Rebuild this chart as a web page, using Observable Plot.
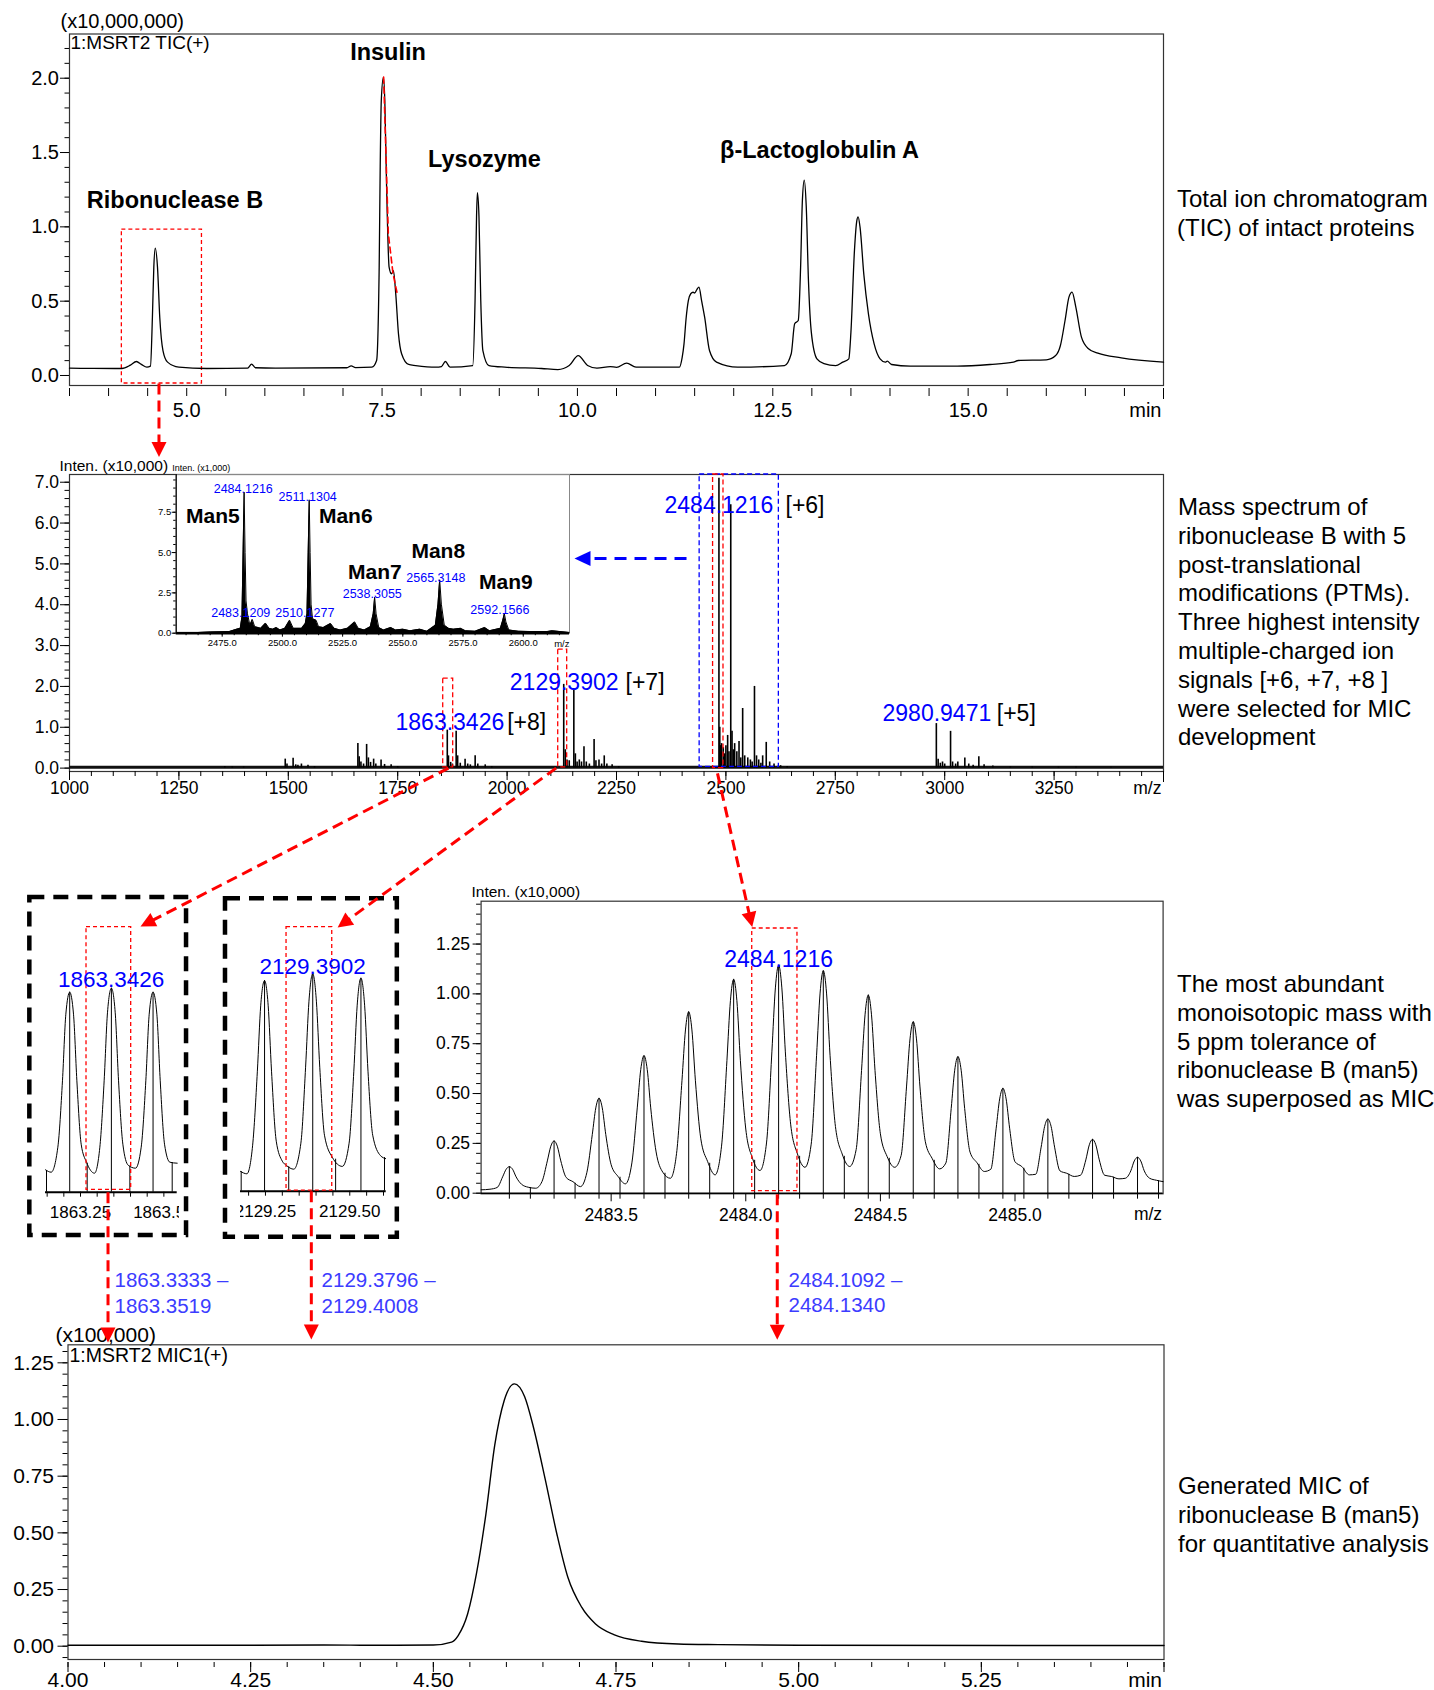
<!DOCTYPE html>
<html>
<head>
<meta charset="utf-8">
<script src="https://cdn.jsdelivr.net/npm/d3@7"></script>
<script src="https://cdn.jsdelivr.net/npm/@observablehq/plot@0.6"></script>
<style>
  html,body{margin:0;padding:0;background:#fff;}
  #fig{position:relative;width:1434px;height:1690px;overflow:hidden;background:#fff;
       font-family:"Liberation Sans",Arial,Helvetica,sans-serif;color:#000;}
  .note{position:absolute;font-size:24px;line-height:28.8px;white-space:nowrap;color:#000;}
</style>
</head>
<body>
<div id="fig"></div>
<script>
// ===================== DATA =====================
// Panel 1 – TIC (time min, intensity x10,000,000)
const ticPoints = [[3.50,0.049],[3.80,0.048],[4.17,0.047],[4.28,0.07],[4.356,0.094],[4.42,0.075],[4.49,0.056],[4.536,0.063],[4.561,0.392],[4.579,0.729],[4.597,0.857],[4.626,0.729],[4.655,0.392],[4.696,0.168],[4.755,0.09],[4.90,0.056],[5.254,0.047],[5.78,0.05],[5.83,0.076],[5.88,0.052],[6.136,0.049],[7.05,0.052],[7.105,0.065],[7.16,0.053],[7.37,0.056],[7.43,0.101],[7.463,0.729],[7.476,1.40],[7.49,1.85],[7.517,2.006],[7.535,1.85],[7.557,1.29],[7.59,0.729],[7.62,0.684],[7.645,0.706],[7.675,0.549],[7.71,0.28],[7.75,0.146],[7.84,0.074],[7.93,0.067],[8.19,0.056],[8.26,0.06],[8.31,0.094],[8.37,0.056],[8.66,0.067],[8.69,0.505],[8.709,1.07],[8.72,1.23],[8.74,1.07],[8.763,0.505],[8.79,0.168],[8.868,0.067],[9.07,0.056],[9.54,0.047],[9.75,0.040],[9.895,0.067],[10.01,0.134],[10.13,0.067],[10.25,0.049],[10.42,0.06],[10.5,0.055],[10.63,0.083],[10.75,0.056],[11.305,0.056],[11.34,0.12],[11.364,0.213],[11.39,0.38],[11.42,0.505],[11.45,0.55],[11.48,0.56],[11.50,0.555],[11.53,0.58],[11.555,0.594],[11.59,0.5],[11.628,0.392],[11.69,0.168],[11.78,0.09],[12.05,0.056],[12.65,0.067],[12.736,0.146],[12.78,0.348],[12.826,0.37],[12.856,0.729],[12.879,1.18],[12.903,1.315],[12.928,1.14],[12.957,0.63],[12.993,0.292],[13.065,0.112],[13.155,0.08],[13.305,0.067],[13.395,0.09],[13.473,0.112],[13.5,0.292],[13.545,0.84],[13.575,1.04],[13.592,1.067],[13.617,0.996],[13.665,0.68],[13.724,0.415],[13.797,0.213],[13.873,0.112],[13.94,0.09],[13.965,0.096],[14.02,0.074],[14.26,0.063],[14.86,0.063],[15.28,0.074],[15.58,0.09],[15.64,0.101],[16.0,0.105],[16.12,0.134],[16.18,0.2],[16.24,0.37],[16.29,0.527],[16.33,0.561],[16.378,0.46],[16.45,0.258],[16.54,0.18],[16.66,0.15],[16.96,0.119],[17.5,0.09]];
const ticPeakLabels = [
  {t: 4.85, v: 1.177, label: "Ribonuclease B"},
  {t: 7.576, v: 2.175, label: "Insulin"},
  {t: 8.81, v: 1.451, label: "Lysozyme"},
  {t: 13.098, v: 1.514, label: "β-Lactoglobulin A"}
];
const ticYTicks = [0, 0.5, 1.0, 1.5, 2.0];
const ticXTicks = [5, 7.5, 10, 12.5, 15];
const ticSelection = [{x1: 4.17, x2: 5.195, y1: -0.054, y2: 0.982}];
const insulinMarker = [[7.52, 2.007], [7.58, 0.955], [7.64, 0.686], [7.69, 0.56]];

// Panel 2 – mass spectrum (m/z, intensity x10,000)
const msPeaks = [[1355,0.04],[1372,0.03],[1398,0.03],[1493,0.22],[1497,0.1],[1511,0.24],[1517,0.08],[1522,0.07],[1530,0.1],[1545,0.07],[1560,0.04],[1659,0.6],[1662,0.28],[1666,0.15],[1672,0.1],[1679,0.58],[1683,0.25],[1688,0.14],[1695,0.22],[1700,0.1],[1712,0.2],[1720,0.09],[1735,0.08],[1750,0.04],[1863.3,0.93],[1866,0.3],[1871,0.14],[1875,0.1],[1883.6,0.9],[1887,0.3],[1893,0.12],[1904,0.22],[1910,0.1],[1916,0.08],[1927,0.3],[1933,0.1],[1950,0.08],[1965,0.04],[2129.4,2.05],[2133,0.45],[2137,0.2],[2142,0.18],[2152.5,1.95],[2156,0.35],[2160,0.15],[2165,0.2],[2170,0.15],[2175.7,0.52],[2181,0.15],[2188,0.1],[2198.8,0.7],[2203,0.18],[2210,0.2],[2216,0.1],[2222,0.3],[2228,0.1],[2240,0.08],[2255,0.04],[2484.1,7.1],[2486,1.0],[2488,0.55],[2490,0.6],[2494,0.5],[2497,0.35],[2500,0.55],[2504,0.8],[2507,0.4],[2511.1,6.45],[2514,0.9],[2517,0.45],[2520,0.6],[2525,0.4],[2530,0.65],[2534,0.25],[2538.3,1.46],[2543,0.3],[2550,0.25],[2556,0.2],[2560,0.15],[2565.3,2.0],[2570,0.3],[2575,0.2],[2580,0.12],[2584,0.3],[2592.2,0.63],[2600,0.15],[2610,0.1],[2625,0.06],[2640,0.04],[2980.9,1.09],[2985,0.22],[2990,0.12],[2995,0.15],[3000,0.1],[3013.4,0.9],[3018,0.15],[3025,0.1],[3030,0.15],[3046,0.25],[3055,0.1],[3065,0.07],[3078,0.28],[3090,0.08],[3110,0.05],[3150,0.03],[3200,0.03],[3260,0.025],[3300,0.025],[3380,0.02]];
const msYTicks = [0, 1, 2, 3, 4, 5, 6, 7];
const msXTicks = [1000, 1250, 1500, 1750, 2000, 2250, 2500, 2750, 3000, 3250];
const msLabels = [
  {mz: 2359.7, v: 6.43, num: "2484.1216", zmz: 2636.2, z: "[+6]"},
  {mz: 2006.2, v: 2.10, num: "2129.3902", zmz: 2270.6, z: "[+7]"},
  {mz: 1745.0, v: 1.124, num: "1863.3426", zmz: 2000.2, z: "[+8]"},
  {mz: 2857.9, v: 1.33, num: "2980.9471", zmz: 3119.0, z: "[+5]"}
];
const msRedBoxes = [
  {x1: 1854, x2: 1876.8, y1: 0.02, y2: 2.19},
  {x1: 2116.8, x2: 2137.3, y1: 0.02, y2: 2.9},
  {x1: 2470.7, x2: 2494.5, y1: 0.0, y2: 7.189}
];
const msBlueBox = [{x1: 2440, x2: 2621, y1: 0.03, y2: 7.189}];

// Inset – zoomed spectrum (m/z, intensity x1,000)
const insetProfile = [[2456,0.05],[2465,0.05],[2470,0.08],[2478,0.1],[2481,0.25],[2482.5,0.3],[2483.2,1.0],[2483.7,5.2],[2484.1,8.74],[2484.5,5.0],[2484.9,2.0],[2485.5,1.2],[2486.5,0.5],[2487.5,0.85],[2488.5,0.4],[2490,0.35],[2491,0.3],[2493,0.62],[2494.5,0.3],[2496,0.25],[2497.5,0.35],[2499,0.2],[2501,0.3],[2503,0.8],[2504.5,0.3],[2506,0.3],[2508,0.3],[2509.5,0.6],[2510.2,1.2],[2510.7,5],[2511.13,8.27],[2511.5,5],[2511.9,1.8],[2512.5,0.9],[2514,0.8],[2515,0.4],[2517,0.35],[2520,0.6],[2521.5,0.3],[2524,0.2],[2527,0.3],[2530,0.7],[2531.5,0.3],[2534,0.2],[2536.5,0.4],[2537.7,1.2],[2538.3,2.23],[2538.9,1.2],[2540,0.35],[2542,0.2],[2545,0.35],[2547,0.2],[2550,0.25],[2553,0.15],[2557,0.25],[2560,0.12],[2563.5,0.5],[2564.6,1.8],[2565.3,3.31],[2566,1.8],[2567.2,0.5],[2569,0.3],[2571,0.25],[2574,0.3],[2576,0.15],[2580,0.12],[2584,0.35],[2586,0.15],[2590.5,0.3],[2591.5,0.8],[2592.16,1.2],[2592.8,0.7],[2594,0.2],[2598,0.12],[2603,0.1],[2610,0.1],[2612,0.15],[2619,0.05]];
const insetValueLabels = [
  {mz: 2483.74, v: 8.91, text: "2484.1216"},
  {mz: 2510.5, v: 8.47, text: "2511.1304"},
  {mz: 2537.3, v: 2.40, text: "2538.3055"},
  {mz: 2563.7, v: 3.45, text: "2565.3148"},
  {mz: 2590.3, v: 1.41, text: "2592.1566"},
  {mz: 2482.7, v: 1.28, text: "2483.1209"},
  {mz: 2509.3, v: 1.28, text: "2510.1277"}
];
const insetGlycanLabels = [
  {mz: 2471.1, v: 7.23, text: "Man5"},
  {mz: 2526.3, v: 7.23, text: "Man6"},
  {mz: 2538.4, v: 3.75, text: "Man7"},
  {mz: 2564.7, v: 5.10, text: "Man8"},
  {mz: 2592.8, v: 3.14, text: "Man9"}
];
const insetXTicks = [2475, 2500, 2525, 2550, 2575, 2600];
const insetYTicks = [0, 2.5, 5, 7.5];

// Panel 3a – [+8] isotopes (relative profile)
const prof1863 = [[1863.145,0.112],[1863.162,0.10],[1863.182,0.225],[1863.196,0.56],[1863.206,0.89],[1863.2176,1.0],[1863.229,0.89],[1863.239,0.56],[1863.252,0.24],[1863.268,0.15],[1863.292,0.095],[1863.308,0.225],[1863.321,0.56],[1863.331,0.9],[1863.3426,1.02],[1863.354,0.9],[1863.364,0.56],[1863.377,0.24],[1863.393,0.135],[1863.415,0.12],[1863.432,0.225],[1863.446,0.56],[1863.456,0.89],[1863.4676,1.0],[1863.479,0.89],[1863.489,0.56],[1863.502,0.24],[1863.518,0.15],[1863.54,0.145]];
const sticks1863 = [[1863.148,0.108],[1863.2176,1.0],[1863.27,0.145],[1863.3426,1.02],[1863.398,0.13],[1863.4676,1.0],[1863.525,0.148]];
const ticks1863 = [1863.25, 1863.50];
const box1863 = [{x1: 1863.268, x2: 1863.402, y1: 0.012, y2: 1.325}];

// Panel 3b – [+7] isotopes
const prof2129 = [[2129.176,0.099],[2129.195,0.087],[2129.212,0.23],[2129.226,0.6],[2129.236,0.93],[2129.2473,1.053],[2129.258,0.93],[2129.268,0.6],[2129.282,0.25],[2129.300,0.15],[2129.312,0.129],[2129.334,0.11],[2129.355,0.24],[2129.369,0.62],[2129.379,0.95],[2129.3902,1.087],[2129.401,0.95],[2129.411,0.62],[2129.425,0.28],[2129.448,0.17],[2129.478,0.124],[2129.498,0.24],[2129.512,0.6],[2129.522,0.93],[2129.5331,1.065],[2129.544,0.93],[2129.554,0.6],[2129.568,0.28],[2129.591,0.178],[2129.608,0.162]];
const sticks2129 = [[2129.178,0.098],[2129.2473,1.053],[2129.319,0.122],[2129.3902,1.087],[2129.458,0.16],[2129.5331,1.065],[2129.603,0.168]];
const ticks2129 = [2129.25, 2129.50];
const box2129 = [{x1: 2129.3125, x2: 2129.448, y1: 0.003, y2: 1.32}];

// Panel 3c – [+6] isotopes (x10,000)
const prof2484 = [[2483.017,0.017],[2483.05,0.02],
[2483.077,0.029],[2483.097,0.082],[2483.110,0.12],[2483.122,0.133],[2483.134,0.12],[2483.147,0.082],[2483.167,0.045],[2483.192,0.03],[2483.220,0.025],
[2483.243,0.058],[2483.263,0.162],[2483.276,0.236],[2483.288,0.262],[2483.300,0.236],[2483.313,0.162],[2483.333,0.079],[2483.358,0.058],[2483.386,0.033],
[2483.410,0.105],[2483.430,0.295],[2483.443,0.428],[2483.455,0.476],[2483.467,0.428],[2483.480,0.295],[2483.500,0.143],[2483.525,0.085],[2483.553,0.047],
[2483.577,0.152],[2483.597,0.428],[2483.610,0.621],[2483.622,0.69],[2483.634,0.621],[2483.647,0.428],[2483.667,0.207],[2483.692,0.105],[2483.720,0.075],
[2483.743,0.2],[2483.763,0.564],[2483.776,0.819],[2483.788,0.91],[2483.800,0.819],[2483.813,0.564],[2483.833,0.273],[2483.858,0.16],[2483.886,0.092],
[2483.910,0.236],[2483.930,0.665],[2483.943,0.966],[2483.955,1.073],[2483.967,0.966],[2483.980,0.665],[2484.000,0.322],[2484.025,0.175],[2484.053,0.114],
[2484.077,0.252],[2484.097,0.709],[2484.110,1.03],[2484.122,1.144],[2484.134,1.03],[2484.147,0.709],[2484.167,0.343],[2484.192,0.197],[2484.220,0.13],
[2484.243,0.246],[2484.263,0.692],[2484.276,1.004],[2484.288,1.116],[2484.300,1.004],[2484.313,0.692],[2484.333,0.335],[2484.358,0.197],[2484.386,0.134],
[2484.410,0.219],[2484.430,0.616],[2484.443,0.895],[2484.455,0.994],[2484.467,0.895],[2484.480,0.616],[2484.500,0.298],[2484.525,0.184],[2484.553,0.13],
[2484.577,0.189],[2484.597,0.533],[2484.610,0.774],[2484.622,0.86],[2484.634,0.774],[2484.647,0.533],[2484.667,0.258],[2484.692,0.175],[2484.720,0.122],
[2484.743,0.151],[2484.763,0.425],[2484.776,0.617],[2484.788,0.685],[2484.800,0.617],[2484.813,0.425],[2484.833,0.206],[2484.858,0.154],[2484.886,0.109],
[2484.910,0.12],[2484.930,0.326],[2484.943,0.473],[2484.955,0.526],[2484.967,0.473],[2484.980,0.326],[2485.000,0.158],[2485.025,0.134],[2485.053,0.092],
[2485.077,0.095],[2485.097,0.231],[2485.110,0.335],[2485.122,0.372],[2485.134,0.335],[2485.147,0.231],[2485.167,0.112],[2485.192,0.1],[2485.220,0.084],
[2485.243,0.09],[2485.263,0.167],[2485.276,0.243],[2485.288,0.27],[2485.300,0.243],[2485.313,0.167],[2485.333,0.09],[2485.358,0.084],[2485.386,0.072],
[2485.410,0.075],[2485.430,0.112],[2485.443,0.162],[2485.455,0.18],[2485.467,0.162],[2485.480,0.112],[2485.500,0.075],[2485.525,0.065],[2485.55,0.058]];
const peaks2484 = [[2483.122,0.133],[2483.288,0.262],[2483.455,0.476],[2483.622,0.69],[2483.788,0.91],[2483.955,1.073],[2484.122,1.144],[2484.288,1.116],[2484.455,0.994],[2484.622,0.86],[2484.788,0.685],[2484.955,0.526],[2485.122,0.372],[2485.288,0.27],[2485.455,0.18]];
const shoulders2484 = [[2483.200,0.028],[2483.366,0.05],[2483.533,0.08],[2483.700,0.1],[2483.866,0.15],[2484.033,0.165],[2484.200,0.185],[2484.366,0.185],[2484.533,0.175],[2484.700,0.165],[2484.866,0.145],[2485.033,0.125],[2485.200,0.095],[2485.366,0.08],[2485.533,0.062]];
const isoXTicks = [2483.5, 2484.0, 2484.5, 2485.0];
const isoYTicks = [0, 0.25, 0.5, 0.75, 1.0, 1.25];
const box2484 = [{x1: 2484.024, x2: 2484.192, y1: 0.01, y2: 1.328}];

// Panel 4 – MIC (time min, intensity x100,000)
const micPoints = [[4.0,0.004],[4.2,0.004],[4.35,0.005],[4.45,0.004],[4.5,0.005],[4.525,0.018],[4.534,0.047],[4.547,0.143],[4.559,0.32],[4.572,0.584],[4.584,0.886],[4.597,1.084],[4.611,1.157],[4.625,1.10],[4.637,0.966],[4.653,0.738],[4.669,0.496],[4.684,0.305],[4.703,0.172],[4.722,0.098],[4.747,0.051],[4.785,0.022],[4.835,0.01],[4.89,0.007],[5.0,0.004],[5.5,0.003]];
const micXTicks = [4.0, 4.25, 4.5, 4.75, 5.0, 5.25];
const micYTicks = [0, 0.25, 0.5, 0.75, 1.0, 1.25];

// Connectors: [panel, x value, y value] in each panel's data space
const connectors = [
  {from: ["p1", 4.645, -0.054], to: ["p1", 4.645, -0.548], color: "red"},
  {from: ["p2", 1866, 0.0], to: ["p3a", 1863.43, 1.3285], color: "red"},
  {from: ["p2", 2112, 0.0], to: ["p3b", 2129.464, 1.3185], color: "red"},
  {from: ["p2", 2480.8, -0.13], to: ["p3c", 2484.024, 1.335], color: "red"},
  {from: ["p3a", 1863.3325, 0.0], to: ["p3a", 1863.3325, -0.7515], color: "red"},
  {from: ["p3b", 2129.386, 0.0], to: ["p3b", 2129.386, -0.7415], color: "red"},
  {from: ["p3c", 2484.117, -0.005], to: ["p3c", 2484.117, -0.735], color: "red"},
  {from: ["p2", 2410, 5.13], to: ["p2", 2154, 5.13], color: "blue"}
];
const blackBoxes = [
  {panel: "p3a", x1: 1863.098, x2: 1863.568, y1: 1.4735, y2: -0.2165},
  {panel: "p3b", x1: 2129.1315, x2: 2129.641, y1: 1.462, y2: -0.23}
];
const rangeLabels = [
  {panel: "p3a", x: 1863.352, y: -0.499, text: "1863.3333 –\n1863.3519"},
  {panel: "p3b", x: 2129.4164, y: -0.504, text: "2129.3796 –\n2129.4008"},
  {panel: "p3c", x: 2484.1587, y: -0.492, text: "2484.1092 –\n2484.1340"}
];
const notes = [
  {left: 1177, top: 185, lines: ["Total ion chromatogram", "(TIC) of intact proteins"]},
  {left: 1178, top: 493, lines: ["Mass spectrum of", "ribonuclease B with 5", "post-translational", "modifications (PTMs).", "Three highest intensity", "multiple-charged ion", "signals [+6, +7, +8 ]", "were selected for MIC", "development"]},
  {left: 1177, top: 970, lines: ["The most abundant", "monoisotopic mass with", "5 ppm tolerance of", "ribonuclease B (man5)", "was superposed as MIC"]},
  {left: 1178, top: 1472, lines: ["Generated MIC of", "ribonuclease B (man5)", "for quantitative analysis"]}
];

// ===================== RENDER =====================
const FONT = '"Liberation Sans", Arial, Helvetica, sans-serif';
const fig = document.getElementById("fig");
const X = d => d[0], Y = d => d[1];
const txt = d => d;
const RED = "#ff0000", BLUE = "#0000ff", RANGEBLUE = "#3c3cff";
function st(fs, extra) { return Object.assign({fontFamily: FONT, fontSize: fs, color: "#000", background: "transparent", overflow: "visible"}, extra || {}); }
const panels = {};
function place(name, plot, left, top) {
  plot.style.position = "absolute";
  plot.style.left = left + "px";
  plot.style.top = top + "px";
  fig.appendChild(plot);
  panels[name] = {plot, left, top};
}
const none = () => "";
const range = (a, n, s) => d3.range(n).map(i => +(a + i * s).toFixed(4));
const mid = {lineAnchor: "middle"};

// ---- Panel 1 ----
place("p1", Plot.plot({
  width: 1175, height: 420, marginLeft: 69, marginRight: 12, marginTop: 33.5, marginBottom: 32,
  x: {domain: [3.5, 17.5]}, y: {domain: [-0.0875, 2.2974]},
  style: st("20px"),
  marks: [
    Plot.frame({stroke: "#333", strokeWidth: 1.2, insetBottom: 3}),
    Plot.axisY({ticks: range(0, 23, 0.1), tickSize: 4.5, tickFormat: none, label: null}),
    Plot.axisY({ticks: ticYTicks, tickSize: 9, tickPadding: 1.5, tickFormat: d => d.toFixed(1), label: null}),
    Plot.axisX({ticks: range(3.5, 29, 0.5), tickSize: 8, tickPadding: 6, tickFormat: d => ticXTicks.includes(d) ? d.toFixed(1) : "", label: null}),
    Plot.axisX({ticks: [17.5], tickSize: 11, tickFormat: none, label: null}),
    Plot.text(["min"], {...mid, text: txt, frameAnchor: "bottom-right", dx: -2, dy: 22, textAnchor: "end"}),
    Plot.text(["(x10,000,000)"], {...mid, text: txt, frameAnchor: "top-left", dx: -9, dy: -12, textAnchor: "start"}),
    Plot.text(["1:MSRT2 TIC(+)"], {...mid, text: txt, frameAnchor: "top-left", dx: 1, dy: 9, textAnchor: "start", fontSize: 19}),
    Plot.rect(ticSelection, {x1: "x1", x2: "x2", y1: "y1", y2: "y2", fill: "none", stroke: RED, strokeWidth: 1.3, strokeDasharray: "4,3"}),
    Plot.line(ticPoints, {x: X, y: Y, stroke: "#000", strokeWidth: 1.3, curve: "monotone-x"}),
    Plot.line(insulinMarker, {x: X, y: Y, stroke: RED, strokeWidth: 1.6, strokeDasharray: "6,4"}),
    Plot.text(ticPeakLabels, {x: "t", y: "v", text: "label", fontSize: 23.5, fontWeight: "bold"})
  ]
}), 0, 0);

// ---- Panel 2 ----
place("p2", Plot.plot({
  width: 1175, height: 360, marginLeft: 69, marginRight: 12, marginTop: 34, marginBottom: 29,
  x: {domain: [1000, 3500]}, y: {domain: [-0.083, 7.189]},
  style: st("17.5px"),
  marks: [
    Plot.frame({stroke: "#333", strokeWidth: 1.2}),
    Plot.axisY({ticks: range(0, 36, 0.2), tickSize: 4.5, tickFormat: none, label: null}),
    Plot.axisY({ticks: msYTicks, tickSize: 9, tickPadding: 1.5, tickFormat: d => d.toFixed(1), label: null}),
    Plot.axisX({ticks: range(1000, 51, 50), tickSize: 5, tickFormat: none, label: null}),
    Plot.axisX({ticks: msXTicks, tickSize: 9, tickPadding: 1, tickFormat: d => String(d), label: null}),
    Plot.axisX({ticks: [3500], tickSize: 11, tickFormat: none, label: null}),
    Plot.text(["m/z"], {...mid, text: txt, frameAnchor: "bottom-right", dx: -2, dy: 17, textAnchor: "end"}),
    Plot.text(["Inten. (x10,000)"], {...mid, text: txt, frameAnchor: "top-left", dx: -10, dy: -8, textAnchor: "start", fontSize: 15.5}),
    Plot.ruleY([0.02], {stroke: "#111", strokeWidth: 3}),
    Plot.ruleX(msPeaks, {x: X, y1: 0, y2: Y, stroke: "#000", strokeWidth: 1.6}),
    Plot.rect(msBlueBox, {x1: "x1", x2: "x2", y1: "y1", y2: "y2", fill: "none", stroke: BLUE, strokeWidth: 1.3, strokeDasharray: "5,3"}),
    Plot.rect(msRedBoxes, {x1: "x1", x2: "x2", y1: "y1", y2: "y2", fill: "none", stroke: RED, strokeWidth: 1.3, strokeDasharray: "5,3"}),
    Plot.text(msLabels, {x: "mz", y: "v", text: "num", textAnchor: "start", fill: BLUE, fontSize: 23}),
    Plot.text(msLabels, {x: "zmz", y: "v", text: "z", textAnchor: "start", fill: "#000", fontSize: 23})
  ]
}), 0, 440);

// ---- Inset ----
place("inset", Plot.plot({
  width: 440, height: 195, marginLeft: 35.7, marginRight: 11, marginTop: 19, marginBottom: 17.3,
  x: {domain: [2455.9, 2619.2]}, y: {domain: [0, 9.84]},
  style: st("9.5px"),
  marks: [
    Plot.frame({stroke: "#888", strokeWidth: 1}),
    Plot.axisY({ticks: range(0, 20, 0.5), tickSize: 2.5, tickFormat: none, label: null}),
    Plot.axisY({ticks: insetYTicks, tickSize: 4, tickPadding: 1, tickFormat: d => d.toFixed(1), label: null}),
    Plot.axisX({ticks: range(2460, 32, 5), tickSize: 2.5, tickFormat: none, label: null}),
    Plot.axisX({ticks: insetXTicks, tickSize: 4, tickPadding: 2, tickFormat: d => d.toFixed(1), label: null}),
    Plot.text(["m/z"], {...mid, text: txt, frameAnchor: "bottom-right", dx: 0, dy: 10.5, textAnchor: "end"}),
    Plot.text(["Inten. (x1,000)"], {...mid, text: txt, frameAnchor: "top-left", dx: -4, dy: -6, textAnchor: "start", fontSize: 9}),
    Plot.ruleX([2455.9], {stroke: "#000", strokeWidth: 1.2}),
    Plot.areaY(insetProfile, {x: X, y: Y, fill: "#000"}),
    Plot.line(insetProfile, {x: X, y: Y, stroke: "#000", strokeWidth: 1}),
    Plot.ruleY([0], {stroke: "#000", strokeWidth: 2.5}),
    Plot.text(insetGlycanLabels, {x: "mz", y: "v", text: "text", fontSize: 21, fontWeight: "bold", fill: "#000"}),
    Plot.text(insetValueLabels, {x: "mz", y: "v", text: "text", fontSize: 12.5, fill: BLUE})
  ]
}), 140, 455);

// ---- Panel 3a ----
place("p3a", Plot.plot({
  width: 139, height: 335, marginLeft: 5, marginRight: 2.3, marginTop: 0, marginBottom: 40.3,
  x: {domain: [1863.145, 1863.54]}, y: {domain: [0, 1.4735], axis: null},
  style: st("17px", {overflow: "hidden"}),
  marks: [
    Plot.axisX({ticks: range(1863.15, 8, 0.05), tickSize: 5, tickPadding: 9, tickFormat: d => ticks1863.includes(d) ? d.toFixed(2) : "", label: null}),
    Plot.ruleY([0], {stroke: "#000", strokeWidth: 2}),
    Plot.ruleX(sticks1863, {x: X, y1: 0, y2: Y, stroke: "#000", strokeWidth: 1}),
    Plot.line(prof1863, {x: X, y: Y, stroke: "#000", strokeWidth: 1, curve: "monotone-x"}),
    Plot.rect(box1863, {x1: "x1", x2: "x2", y1: "y1", y2: "y2", fill: "none", stroke: RED, strokeWidth: 1.3, strokeDasharray: "4,3"}),
    Plot.text(["1863.3426"], {text: txt, x: 1863.342, y: 1.0635, fill: BLUE, fontSize: 22.5})
  ]
}), 40, 897);

// ---- Panel 3b ----
place("p3b", Plot.plot({
  width: 146, height: 335, marginLeft: 0, marginRight: 0.3, marginTop: 0, marginBottom: 41.3,
  x: {domain: [2129.176, 2129.608]}, y: {domain: [0, 1.4685], axis: null},
  style: st("17px", {overflow: "hidden"}),
  marks: [
    Plot.axisX({ticks: range(2129.2, 9, 0.05), tickSize: 5, tickPadding: 9, tickFormat: d => ticks2129.includes(d) ? d.toFixed(2) : "", label: null}),
    Plot.ruleY([0], {stroke: "#000", strokeWidth: 2}),
    Plot.ruleX(sticks2129, {x: X, y1: 0, y2: Y, stroke: "#000", strokeWidth: 1}),
    Plot.line(prof2129, {x: X, y: Y, stroke: "#000", strokeWidth: 1, curve: "monotone-x"}),
    Plot.rect(box2129, {x1: "x1", x2: "x2", y1: "y1", y2: "y2", fill: "none", stroke: RED, strokeWidth: 1.3, strokeDasharray: "4,3"}),
    Plot.text(["2129.3902"], {text: txt, x: 2129.39, y: 1.1235, fill: BLUE, fontSize: 22.5})
  ]
}), 240, 897);

// ---- Panel 3c ----
place("p3c", Plot.plot({
  width: 755, height: 360, marginLeft: 60.6, marginRight: 12.4, marginTop: 20.7, marginBottom: 46.7,
  x: {domain: [2483.017, 2485.55]}, y: {domain: [-0.003, 1.465]},
  style: st("17.5px"),
  marks: [
    Plot.frame({stroke: "#333", strokeWidth: 1.2}),
    Plot.axisY({ticks: range(0, 30, 0.05), tickSize: 4.5, tickFormat: none, label: null}),
    Plot.axisY({ticks: isoYTicks, tickSize: 8, tickPadding: 3, tickFormat: d => d.toFixed(2), label: null}),
    Plot.axisX({ticks: isoXTicks, tickSize: 8, tickPadding: 7, tickFormat: d => d.toFixed(1), label: null}),
    Plot.text(["m/z"], {...mid, text: txt, frameAnchor: "bottom-right", dx: -1, dy: 21, textAnchor: "end"}),
    Plot.text(["Inten. (x10,000)"], {...mid, text: txt, frameAnchor: "top-left", dx: -9.6, dy: -9, textAnchor: "start", fontSize: 15.5}),
    Plot.ruleY([0], {stroke: "#000", strokeWidth: 1.5}),
    Plot.ruleX(peaks2484, {x: X, y1: -0.03, y2: Y, stroke: "#000", strokeWidth: 1}),
    Plot.ruleX(shoulders2484, {x: X, y1: -0.03, y2: Y, stroke: "#000", strokeWidth: 1}),
    Plot.line(prof2484, {x: X, y: Y, stroke: "#000", strokeWidth: 1, curve: "monotone-x"}),
    Plot.rect(box2484, {x1: "x1", x2: "x2", y1: "y1", y2: "y2", fill: "none", stroke: RED, strokeWidth: 1.3, strokeDasharray: "4,3"}),
    Plot.text(["2484.1216"], {text: txt, x: 2484.122, y: 1.174, fill: BLUE, fontSize: 23})
  ]
}), 420, 880);

// ---- Panel 4 ----
place("p4", Plot.plot({
  width: 1175, height: 370, marginLeft: 67.5, marginRight: 11.5, marginTop: 24.3, marginBottom: 28,
  x: {domain: [4.0, 5.5]}, y: {domain: [-0.0719, 1.3295]},
  style: st("21px"),
  marks: [
    Plot.frame({stroke: "#333", strokeWidth: 1.2, insetBottom: 3}),
    Plot.axisY({ticks: range(-0.05, 28, 0.05), tickSize: 5, tickFormat: none, label: null}),
    Plot.axisY({ticks: micYTicks, tickSize: 10, tickPadding: 4, tickFormat: d => d.toFixed(2), label: null}),
    Plot.axisX({ticks: range(4.0, 31, 0.05), tickSize: 5, tickFormat: none, label: null}),
    Plot.axisX({ticks: micXTicks, tickSize: 10, tickPadding: 0, tickFormat: d => d.toFixed(2), label: null}),
    Plot.axisX({ticks: [5.5], tickSize: 10, tickFormat: none, label: null}),
    Plot.text(["min"], {...mid, text: txt, frameAnchor: "bottom-right", dx: -2, dy: 17.5, textAnchor: "end"}),
    Plot.text(["(x100,000)"], {...mid, text: txt, frameAnchor: "top-left", dx: -12.5, dy: -9.3, textAnchor: "start"}),
    Plot.text(["1:MSRT2 MIC1(+)"], {...mid, text: txt, frameAnchor: "top-left", dx: 1.5, dy: 10.7, textAnchor: "start", fontSize: 19.5}),
    Plot.line(micPoints, {x: X, y: Y, stroke: "#000", strokeWidth: 1.4, curve: "monotone-x"})
  ]
}), 0, 1320);

// ---- Overlay (connectors between panels, positioned via panel scales) ----
function P(name, xv, yv) {
  const p = panels[name];
  return [p.left + p.plot.scale("x").apply(xv), p.top + p.plot.scale("y").apply(yv)];
}
const segs = connectors.map(c => {
  const [x1, y1] = P(...c.from);
  const [x2, y2] = P(...c.to);
  const L = Math.hypot(x2 - x1, y2 - y1), ux = (x2 - x1) / L, uy = (y2 - y1) / L;
  return {x1, y1, x2: x2 - ux * 9, y2: y2 - uy * 9, tx: x2, ty: y2, rot: Math.atan2(ux, -uy) * 180 / Math.PI, color: c.color};
});
const boxesPx = blackBoxes.map(b => {
  const [x1, y1] = P(b.panel, b.x1, b.y1);
  const [x2, y2] = P(b.panel, b.x2, b.y2);
  return {x1, y1, x2, y2};
});
const rangesPx = rangeLabels.map(r => {
  const [x, y] = P(r.panel, r.x, r.y);
  return {x, y, text: r.text};
});
const head = {draw(ctx, l, r) { ctx.moveTo(0, -l); ctx.lineTo(-r, 0); ctx.lineTo(r, 0); ctx.closePath(); }};
const redSegs = segs.filter(s => s.color === "red"), blueSegs = segs.filter(s => s.color === "blue");
const overlay = Plot.plot({
  width: 1434, height: 1690, axis: null,
  x: {domain: [0, 1434], range: [0, 1434]}, y: {domain: [0, 1690], range: [0, 1690]},
  style: st("20px"),
  marks: [
    Plot.rect(boxesPx, {x1: "x1", x2: "x2", y1: "y1", y2: "y2", fill: "none", stroke: "#000", strokeWidth: 4.5, strokeDasharray: "15,9"}),
    Plot.link(redSegs, {x1: "x1", y1: "y1", x2: "x2", y2: "y2", stroke: RED, strokeWidth: 3, strokeDasharray: "11,6"}),
    Plot.link(blueSegs, {x1: "x1", y1: "y1", x2: "x2", y2: "y2", stroke: BLUE, strokeWidth: 3, strokeDasharray: "12,8"}),
    Plot.vector(redSegs, {x: "tx", y: "ty", rotate: "rot", length: 15, r: 7.5, anchor: "end", shape: head, fill: RED, stroke: "none"}),
    Plot.vector(blueSegs, {x: "tx", y: "ty", rotate: "rot", length: 16, r: 7.5, anchor: "end", shape: head, fill: BLUE, stroke: "none"}),
    Plot.text(rangesPx, {x: "x", y: "y", text: "text", textAnchor: "start", lineAnchor: "middle", lineHeight: 1.25, fill: RANGEBLUE, fontSize: 20.5})
  ]
});
overlay.style.position = "absolute"; overlay.style.left = "0px"; overlay.style.top = "0px"; overlay.style.pointerEvents = "none";
fig.appendChild(overlay);

// ---- Side notes ----
for (const n of notes) {
  const div = document.createElement("div");
  div.className = "note";
  div.style.left = n.left + "px";
  div.style.top = n.top + "px";
  div.innerHTML = n.lines.map(s => s.replace(/&/g, "&amp;").replace(/</g, "&lt;")).join("<br>");
  fig.appendChild(div);
}
</script>
</body>
</html>
